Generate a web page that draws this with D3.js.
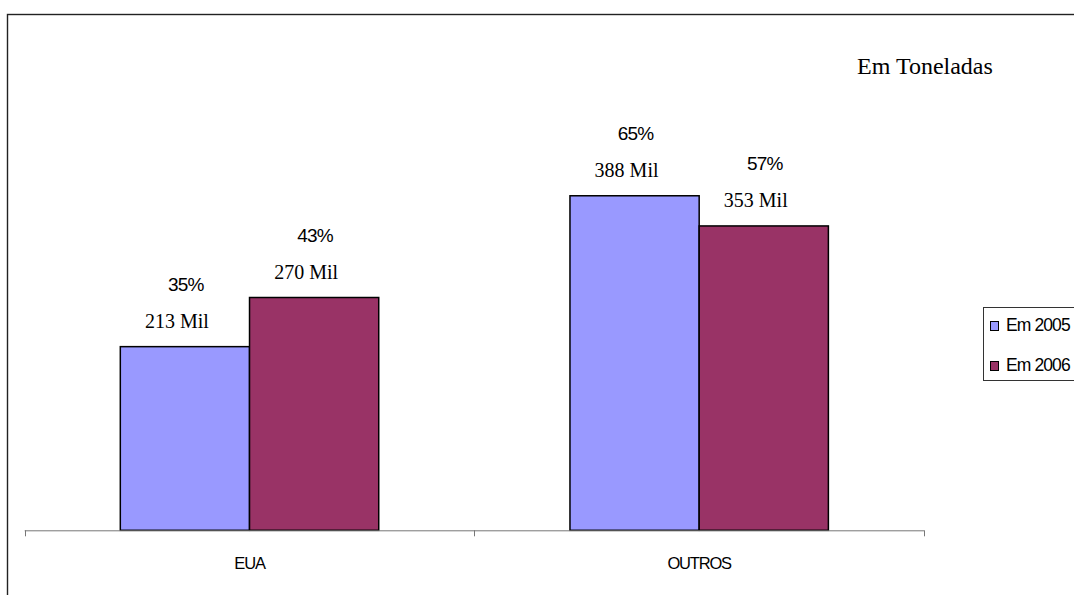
<!DOCTYPE html>
<html>
<head>
<meta charset="utf-8">
<script src="https://cdn.jsdelivr.net/npm/d3@7"></script>
<style>
  html, body { margin: 0; padding: 0; background: #fff; }
  svg { display: block; }
</style>
</head>
<body>
<svg id="chart" width="1074" height="595"></svg>
<script>
// Exportações em toneladas, por destino
const categories = ["EUA", "OUTROS"];
const seriesNames = ["Em 2005", "Em 2006"];
const values2005 = [213, 388];
const values2006 = [270, 353];
const shares2005 = ["35%", "65%"];
const shares2006 = ["43%", "57%"];
const unitLabel = "Em Toneladas";

const colors = ["#9999FF", "#993366"];

const svg = d3.select("#chart");

// outer frame of the chart area
svg.append("rect")
  .attr("x", 7.5).attr("y", 14.5)
  .attr("width", 1200).attr("height", 700)
  .attr("fill", "#fff")
  .attr("stroke", "#222").attr("stroke-width", 1.4);

const plotLeft = 24.7, plotRight = 924, baseY = 530.3;

const x0 = d3.scaleBand().domain(categories).range([plotLeft, plotRight]).padding(0);
const x1 = d3.scaleBand().domain(seriesNames).range([0, x0.bandwidth()])
  .paddingInner(0).paddingOuter(0.74);
const y = d3.scaleLinear().domain([0, 450]).range([baseY, baseY - 450 * 0.8622]);

const rows = categories.map((c, i) => ({
  cat: c,
  bars: [
    { s: seriesNames[0], v: values2005[i], pct: shares2005[i], color: colors[0] },
    { s: seriesNames[1], v: values2006[i], pct: shares2006[i], color: colors[1] }
  ]
}));

const groups = svg.selectAll("g.cat").data(rows).join("g")
  .attr("class", "cat")
  .attr("transform", d => `translate(${x0(d.cat)},0)`);

groups.selectAll("rect").data(d => d.bars).join("rect")
  .attr("x", d => x1(d.s))
  .attr("y", d => y(d.v))
  .attr("width", x1.bandwidth())
  .attr("height", d => baseY - y(d.v))
  .attr("fill", d => d.color)
  .attr("stroke", "#000").attr("stroke-width", 1.5);

// value labels (thousands of tonnes)
groups.selectAll("text.val").data(d => d.bars).join("text")
  .attr("class", "val")
  .attr("x", d => x1(d.s) + x1.bandwidth() / 2 - 8)
  .attr("y", d => y(d.v) - 19)
  .attr("text-anchor", "middle")
  .attr("font-family", "'Liberation Serif', 'Times New Roman', serif")
  .attr("font-size", 20)
  .attr("fill", "#000")
  .text(d => `${d.v} Mil`);

// share labels
groups.selectAll("text.pct").data(d => d.bars).join("text")
  .attr("class", "pct")
  .attr("x", d => x1(d.s) + x1.bandwidth() / 2 + 1)
  .attr("y", d => y(d.v) - 56)
  .attr("text-anchor", "middle")
  .attr("font-family", "'Liberation Sans', Arial, sans-serif")
  .attr("font-size", 19)
  .attr("letter-spacing", -0.8)
  .attr("fill", "#000")
  .text(d => d.pct);

// category axis with ticks between categories
const axis = svg.append("g").attr("stroke", "#777").attr("stroke-width", 1);
axis.append("line")
  .attr("x1", plotLeft).attr("x2", plotRight)
  .attr("y1", baseY + 0.5).attr("y2", baseY + 0.5);
const edges = categories.map(c => x0(c)).concat([x0(categories[categories.length - 1]) + x0.bandwidth()]);
axis.selectAll("line.tick").data(edges).join("line")
  .attr("class", "tick")
  .attr("x1", d => Math.round(d) + 0.5).attr("x2", d => Math.round(d) + 0.5)
  .attr("y1", baseY).attr("y2", baseY + 6);

svg.selectAll("text.cat").data(categories).join("text")
  .attr("class", "cat")
  .attr("x", d => x0(d) + x0.bandwidth() / 2)
  .attr("y", 569)
  .attr("text-anchor", "middle")
  .attr("font-family", "'Liberation Sans', Arial, sans-serif")
  .attr("font-size", 16.5)
  .attr("letter-spacing", -1.2)
  .attr("fill", "#000")
  .text(d => d);

// unit caption
svg.append("text")
  .attr("x", 857).attr("y", 74)
  .attr("font-family", "'Liberation Serif', 'Times New Roman', serif")
  .attr("font-size", 24)
  .attr("fill", "#000")
  .text(unitLabel);

// legend
const legend = svg.append("g");
legend.append("rect")
  .attr("x", 983.5).attr("y", 307.5)
  .attr("width", 150).attr("height", 73)
  .attr("fill", "#fff")
  .attr("stroke", "#333").attr("stroke-width", 1);
const items = legend.selectAll("g.item").data(seriesNames).join("g")
  .attr("class", "item")
  .attr("transform", (d, i) => `translate(0,${i * 40})`);
items.append("rect")
  .attr("x", 990.5).attr("y", 321.5)
  .attr("width", 8).attr("height", 9)
  .attr("fill", (d, i) => colors[i])
  .attr("stroke", "#000").attr("stroke-width", 1);
items.append("text")
  .attr("x", 1006).attr("y", 331)
  .attr("font-family", "'Liberation Sans', Arial, sans-serif")
  .attr("font-size", 17.5)
  .attr("letter-spacing", -0.9)
  .attr("fill", "#000")
  .text(d => d);
</script>
</body>
</html>
